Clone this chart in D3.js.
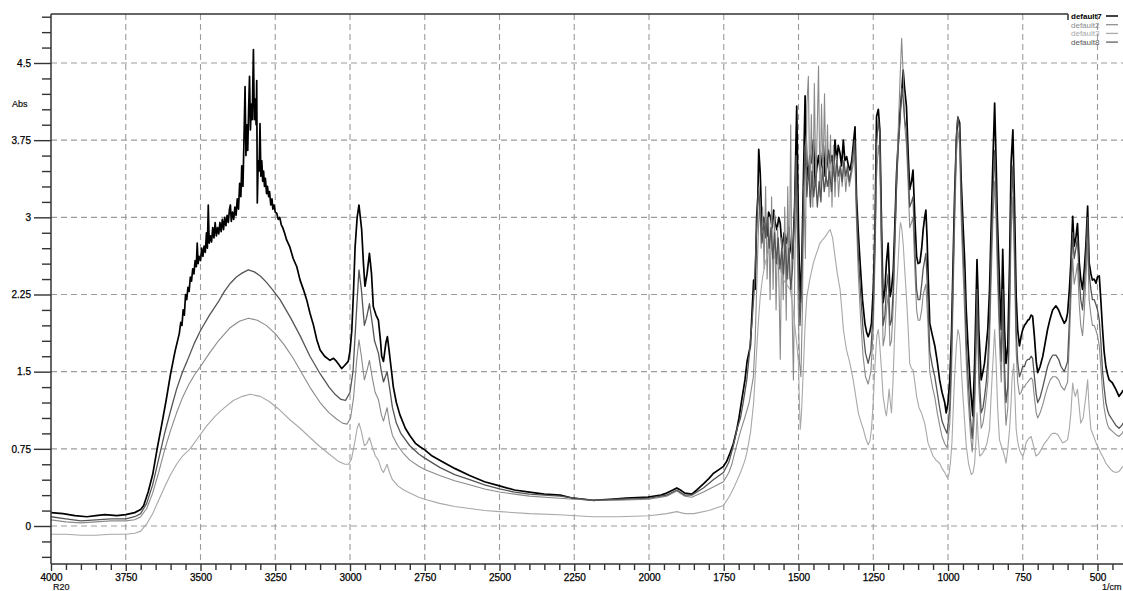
<!DOCTYPE html>
<html>
<head>
<meta charset="utf-8">
<script src="https://cdn.jsdelivr.net/npm/d3@7"></script>
<style>
  html, body { margin: 0; padding: 0; background: #fff; }
  svg { display: block; }
  text { font-family: "Liberation Sans", Arial, sans-serif; }
</style>
</head>
<body>
<svg id="chart" width="1123" height="591"></svg>
<script>
// IR absorbance spectra, [wavenumber (1/cm), absorbance]
const seriesNames = ["default7", "default2", "default3", "default8"];

const default7 = [[4000,0.13],[3960,0.12],[3920,0.1],[3880,0.09],[3850,0.1],[3820,0.11],[3780,0.1],[3750,0.11],[3720,0.13],[3700,0.16],[3690,0.2],[3675,0.33],[3660,0.5],[3645,0.75],[3630,0.98],[3615,1.22],[3600,1.48],[3585,1.7],[3571,1.87],[3566,1.98],[3562,1.95],[3558,2.1],[3554,2.05],[3550,2.25],[3546,2.2],[3542,2.32],[3538,2.28],[3534,2.42],[3530,2.38],[3526,2.5],[3522,2.45],[3518,2.58],[3514,2.52],[3511,2.75],[3508,2.55],[3505,2.62],[3500,2.58],[3496,2.7],[3492,2.62],[3488,2.72],[3484,2.66],[3480,2.85],[3477,2.7],[3474,3.12],[3471,2.75],[3467,2.82],[3463,2.76],[3459,2.9],[3455,2.8],[3451,2.95],[3447,2.82],[3443,2.9],[3439,2.84],[3435,2.95],[3431,2.86],[3427,2.98],[3423,2.88],[3419,3.0],[3415,2.92],[3411,3.02],[3407,2.95],[3403,3.08],[3400,3.12],[3397,2.96],[3393,3.05],[3389,2.98],[3385,3.1],[3381,3.02],[3377,3.18],[3373,3.08],[3369,3.33],[3365,3.2],[3362,3.5],[3358,3.3],[3355,3.7],[3351,4.27],[3348,3.6],[3345,3.9],[3342,3.65],[3339,4.05],[3336,4.37],[3333,3.85],[3330,4.1],[3327,3.95],[3323,4.63],[3320,3.95],[3317,4.15],[3314,3.9],[3312,4.33],[3310,3.14],[3307,3.55],[3304,3.45],[3301,3.91],[3298,3.4],[3295,3.55],[3292,3.35],[3289,3.45],[3286,3.3],[3283,3.38],[3279,3.23],[3276,3.3],[3272,3.2],[3269,3.25],[3265,3.12],[3261,3.18],[3258,3.08],[3254,3.12],[3250,3.05],[3245,3.04],[3240,2.98],[3235,3.0],[3230,2.93],[3225,2.9],[3218,2.84],[3212,2.78],[3201,2.71],[3190,2.6],[3178,2.52],[3167,2.39],[3156,2.3],[3145,2.2],[3134,2.07],[3122,1.95],[3111,1.81],[3100,1.71],[3085,1.65],[3067,1.61],[3055,1.63],[3045,1.6],[3035,1.56],[3028,1.53],[3018,1.56],[3006,1.6],[3000,1.7],[2994,1.9],[2988,2.3],[2983,2.71],[2976,3.0],[2970,3.12],[2961,2.88],[2955,2.55],[2950,2.33],[2943,2.45],[2935,2.65],[2928,2.45],[2922,2.13],[2913,2.05],[2905,2.0],[2898,1.8],[2894,1.65],[2888,1.6],[2880,1.78],[2875,1.84],[2869,1.7],[2863,1.55],[2855,1.35],[2845,1.2],[2833,1.08],[2815,0.95],[2800,0.88],[2780,0.8],[2766,0.77],[2750,0.74],[2725,0.68],[2700,0.64],[2650,0.56],[2600,0.49],[2550,0.43],[2500,0.39],[2450,0.35],[2400,0.33],[2350,0.31],[2297,0.3],[2254,0.27],[2187,0.25],[2130,0.26],[2075,0.27],[2003,0.28],[1960,0.3],[1941,0.32],[1920,0.35],[1907,0.37],[1895,0.35],[1880,0.32],[1857,0.31],[1840,0.35],[1818,0.41],[1800,0.46],[1785,0.51],[1765,0.55],[1751,0.58],[1740,0.63],[1729,0.71],[1718,0.8],[1707,0.93],[1699,1.05],[1690,1.22],[1679,1.42],[1672,1.6],[1661,1.75],[1655,2.1],[1650,2.39],[1645,2.3],[1640,3.0],[1636,3.2],[1633,3.66],[1628,3.43],[1622,2.88],[1617,3.0],[1611,2.94],[1605,2.82],[1600,3.05],[1594,3.01],[1588,2.9],[1583,3.07],[1578,2.95],[1572,2.88],[1566,3.0],[1561,2.94],[1555,2.7],[1548,2.85],[1540,2.75],[1533,2.9],[1528,2.72],[1520,2.6],[1513,3.1],[1506,4.08],[1500,2.9],[1494,2.17],[1489,2.56],[1484,3.3],[1478,4.18],[1472,3.5],[1467,3.37],[1462,3.6],[1456,3.53],[1450,3.75],[1444,3.33],[1438,3.5],[1433,3.6],[1428,3.46],[1422,3.55],[1417,3.7],[1411,3.4],[1405,3.5],[1400,3.65],[1394,3.53],[1388,3.6],[1383,3.45],[1378,3.75],[1372,3.55],[1367,3.7],[1361,3.62],[1356,3.5],[1350,3.75],[1345,3.55],[1339,3.59],[1333,3.5],[1328,3.46],[1322,3.55],[1317,3.7],[1311,3.88],[1306,3.2],[1300,2.85],[1294,2.56],[1286,2.2],[1278,1.97],[1272,1.88],[1267,1.84],[1262,1.88],[1256,1.97],[1250,2.3],[1244,2.88],[1239,3.98],[1233,4.05],[1228,3.85],[1222,2.88],[1217,2.17],[1211,2.3],[1206,2.56],[1200,2.75],[1194,2.23],[1189,2.3],[1183,2.49],[1178,2.9],[1172,3.43],[1167,3.7],[1161,4.01],[1155,4.2],[1150,4.43],[1145,4.25],[1139,4.08],[1133,3.6],[1128,3.27],[1122,3.35],[1117,3.46],[1111,3.0],[1105,2.62],[1100,2.55],[1094,2.56],[1088,2.7],[1083,2.88],[1078,3.0],[1074,3.07],[1070,2.8],[1067,2.49],[1061,1.97],[1052,1.85],[1044,1.75],[1036,1.6],[1028,1.42],[1020,1.3],[1011,1.2],[1006,1.1],[1000,1.2],[994,1.42],[988,1.9],[983,2.56],[978,3.2],[972,3.75],[967,3.97],[961,3.92],[956,3.37],[950,2.95],[944,2.56],[939,2.1],[933,1.75],[925,1.35],[917,1.07],[911,1.58],[906,2.2],[903,2.59],[900,2.3],[897,1.91],[889,1.42],[883,1.5],[878,1.58],[872,1.75],[867,1.91],[861,2.3],[856,2.88],[850,3.53],[844,4.11],[839,3.53],[835,3.0],[830,2.56],[826,2.2],[822,1.91],[817,2.69],[811,1.91],[806,1.58],[800,1.75],[794,2.56],[789,3.53],[783,3.85],[778,3.2],[772,2.23],[767,1.91],[761,1.75],[755,1.85],[750,1.91],[744,1.95],[739,1.97],[733,2.0],[728,2.01],[722,2.05],[717,2.04],[711,1.84],[705,1.6],[700,1.49],[692,1.55],[683,1.65],[675,1.78],[667,1.91],[658,2.02],[650,2.1],[639,2.14],[630,2.1],[622,2.04],[611,1.97],[605,2.0],[600,2.07],[594,2.3],[589,2.56],[583,3.01],[578,2.72],[572,2.81],[567,2.94],[561,2.56],[556,2.4],[550,2.3],[544,2.5],[539,2.72],[533,3.11],[528,2.56],[522,2.45],[517,2.39],[511,2.4],[505,2.36],[500,2.42],[494,2.43],[489,2.2],[483,1.91],[478,1.7],[472,1.55],[466,1.47],[461,1.42],[450,1.39],[439,1.33],[428,1.26],[418,1.3],[415,1.32]];

const default2 = [[4000,0.06],[3950,0.04],[3900,0.03],[3850,0.04],[3800,0.05],[3750,0.05],[3720,0.06],[3700,0.09],[3680,0.17],[3660,0.32],[3640,0.52],[3619,0.75],[3600,0.93],[3580,1.1],[3560,1.25],[3540,1.37],[3520,1.47],[3500,1.55],[3470,1.68],[3440,1.8],[3400,1.93],[3370,1.99],[3340,2.02],[3310,2.0],[3280,1.95],[3250,1.87],[3220,1.76],[3190,1.63],[3160,1.48],[3130,1.33],[3100,1.2],[3070,1.1],[3045,1.04],[3025,1.0],[3010,0.99],[2998,1.05],[2988,1.25],[2978,1.6],[2970,1.81],[2962,1.65],[2952,1.42],[2944,1.5],[2935,1.61],[2926,1.45],[2916,1.3],[2905,1.23],[2895,1.08],[2888,1.02],[2876,1.15],[2868,1.0],[2858,0.88],[2840,0.78],[2820,0.7],[2800,0.64],[2770,0.58],[2750,0.55],[2700,0.49],[2650,0.44],[2600,0.4],[2550,0.36],[2500,0.33],[2450,0.31],[2400,0.29],[2300,0.27],[2250,0.26],[2187,0.25],[2100,0.25],[2000,0.26],[1941,0.29],[1907,0.34],[1880,0.29],[1857,0.28],[1818,0.33],[1785,0.38],[1751,0.43],[1733,0.52],[1723,0.6],[1710,0.75],[1694,0.92],[1680,1.05],[1665,1.2],[1651,1.45],[1645,1.8],[1640,2.3],[1635,2.8],[1630,3.2],[1625,2.7],[1620,3.1],[1615,2.5],[1610,3.3],[1605,2.4],[1600,3.0],[1595,2.2],[1590,3.2],[1585,2.3],[1580,3.05],[1575,2.1],[1570,2.9],[1565,2.3],[1561,1.62],[1556,2.8],[1551,2.2],[1546,3.1],[1541,2.0],[1536,3.3],[1531,2.4],[1526,3.9],[1522,2.2],[1517,1.42],[1512,2.6],[1507,3.4],[1502,2.3],[1497,1.6],[1492,1.45],[1487,2.1],[1482,3.3],[1477,2.6],[1472,4.1],[1467,4.37],[1462,3.2],[1457,4.0],[1452,3.1],[1447,4.3],[1442,3.3],[1437,3.9],[1433,4.47],[1428,3.2],[1423,4.1],[1418,3.4],[1413,4.2],[1408,3.3],[1403,3.9],[1398,3.2],[1393,3.8],[1388,3.1],[1383,3.7],[1378,3.2],[1372,3.6],[1366,3.2],[1360,3.5],[1354,3.3],[1348,3.55],[1342,3.25],[1336,3.45],[1330,3.3],[1324,3.4],[1318,3.5],[1312,3.65],[1306,2.95],[1300,2.45],[1292,2.0],[1284,1.65],[1276,1.45],[1267,1.38],[1258,1.5],[1250,1.9],[1244,2.6],[1239,3.4],[1233,3.7],[1228,3.55],[1222,2.5],[1217,1.75],[1211,1.85],[1206,2.1],[1200,2.25],[1194,1.75],[1189,1.8],[1183,2.15],[1178,2.7],[1172,3.3],[1167,3.8],[1161,4.3],[1155,4.74],[1150,4.4],[1145,3.9],[1139,3.7],[1133,3.3],[1128,2.9],[1122,2.95],[1117,3.0],[1111,2.5],[1105,2.1],[1100,2.0],[1094,2.0],[1088,2.1],[1083,2.25],[1074,2.35],[1067,1.95],[1061,1.5],[1052,1.35],[1044,1.25],[1036,1.1],[1028,0.98],[1020,0.87],[1011,0.8],[1003,0.76],[994,1.0],[988,1.5],[983,2.2],[978,2.9],[972,3.6],[967,3.85],[961,3.7],[956,3.0],[950,2.5],[944,2.05],[939,1.6],[933,1.25],[925,0.9],[919,0.72],[911,1.1],[906,1.7],[903,2.05],[900,1.8],[897,1.35],[889,0.95],[883,1.0],[878,1.1],[872,1.25],[867,1.4],[861,1.8],[856,2.35],[850,2.95],[844,3.35],[839,2.95],[835,2.45],[830,2.0],[826,1.65],[822,1.4],[817,2.05],[811,1.3],[806,0.98],[800,1.15],[794,1.95],[789,2.85],[783,3.2],[778,2.55],[772,1.7],[767,1.4],[761,1.28],[755,1.3],[750,1.35],[744,1.35],[739,1.38],[733,1.4],[728,1.42],[722,1.44],[717,1.42],[711,1.25],[705,1.1],[700,1.05],[692,1.1],[683,1.18],[675,1.27],[667,1.35],[658,1.42],[650,1.45],[639,1.45],[630,1.42],[622,1.36],[611,1.32],[600,1.4],[594,1.8],[589,2.2],[583,2.6],[578,2.35],[572,2.45],[567,2.55],[561,2.15],[556,1.95],[550,1.85],[544,2.1],[539,2.4],[533,2.75],[528,2.2],[522,2.05],[517,1.95],[511,1.95],[505,1.9],[500,1.85],[494,1.75],[489,1.55],[483,1.3],[478,1.15],[472,1.05],[466,0.98],[461,0.95],[450,0.92],[439,0.89],[428,0.87],[418,0.9],[415,0.92]];

const default3 = [[4000,-0.08],[3950,-0.08],[3900,-0.09],[3850,-0.09],[3800,-0.08],[3750,-0.08],[3720,-0.07],[3700,-0.05],[3680,0.02],[3660,0.12],[3640,0.25],[3620,0.38],[3600,0.5],[3580,0.6],[3560,0.68],[3535,0.75],[3510,0.85],[3480,0.97],[3450,1.07],[3420,1.15],[3390,1.22],[3360,1.26],[3334,1.28],[3300,1.26],[3270,1.21],[3240,1.14],[3200,1.03],[3167,0.95],[3134,0.86],[3100,0.77],[3070,0.7],[3040,0.63],[3017,0.6],[3005,0.6],[2995,0.65],[2985,0.8],[2976,0.95],[2970,1.0],[2962,0.92],[2952,0.78],[2944,0.8],[2935,0.86],[2926,0.77],[2915,0.68],[2905,0.64],[2895,0.55],[2888,0.52],[2876,0.6],[2868,0.52],[2858,0.45],[2840,0.39],[2820,0.35],[2800,0.32],[2770,0.28],[2750,0.26],[2700,0.22],[2650,0.19],[2600,0.17],[2550,0.15],[2500,0.14],[2400,0.12],[2300,0.11],[2187,0.09],[2100,0.09],[2000,0.1],[1941,0.12],[1907,0.14],[1880,0.12],[1850,0.12],[1800,0.15],[1751,0.2],[1733,0.28],[1715,0.38],[1694,0.52],[1680,0.63],[1672,0.72],[1660,0.92],[1650,1.2],[1642,1.6],[1635,1.95],[1628,2.23],[1620,2.42],[1611,2.56],[1602,2.65],[1594,2.72],[1585,2.65],[1578,2.6],[1572,2.56],[1562,2.5],[1550,2.39],[1540,2.35],[1528,2.3],[1520,2.15],[1511,1.91],[1505,1.75],[1500,1.58],[1497,1.2],[1494,0.94],[1490,1.1],[1483,1.58],[1478,1.95],[1472,2.23],[1462,2.4],[1450,2.56],[1440,2.65],[1428,2.75],[1420,2.78],[1411,2.81],[1400,2.86],[1394,2.88],[1386,2.8],[1378,2.62],[1370,2.45],[1361,2.3],[1355,2.1],[1350,1.91],[1340,1.72],[1328,1.58],[1317,1.42],[1308,1.25],[1300,1.1],[1290,1.0],[1283,0.94],[1275,0.85],[1267,0.79],[1261,0.83],[1256,0.94],[1250,1.2],[1244,1.58],[1238,1.85],[1233,1.91],[1228,1.75],[1222,1.5],[1217,1.26],[1210,1.12],[1206,1.07],[1201,1.2],[1197,1.33],[1193,1.2],[1189,1.1],[1184,1.4],[1178,1.91],[1172,2.3],[1167,2.56],[1162,2.85],[1159,2.95],[1155,2.9],[1150,2.75],[1145,2.5],[1139,2.23],[1133,1.9],[1128,1.58],[1122,1.53],[1117,1.52],[1111,1.4],[1105,1.26],[1097,1.15],[1089,1.1],[1078,1.0],[1072,0.9],[1067,0.81],[1058,0.74],[1050,0.68],[1040,0.64],[1028,0.61],[1018,0.55],[1011,0.52],[1003,0.47],[997,0.5],[992,0.61],[987,0.8],[983,1.1],[978,1.45],[972,1.75],[967,1.91],[962,1.85],[959,1.75],[955,1.5],[950,1.26],[944,1.0],[939,0.78],[931,0.6],[922,0.5],[916,0.52],[911,0.61],[906,0.85],[903,1.1],[899,0.85],[894,0.68],[886,0.7],[878,0.74],[870,0.8],[861,0.94],[856,1.25],[850,1.58],[844,1.91],[839,1.58],[834,1.15],[828,0.84],[822,0.78],[817,0.74],[811,0.68],[806,0.61],[800,0.75],[794,0.94],[789,1.2],[786,1.42],[780,1.58],[776,1.25],[772,0.94],[767,0.82],[761,0.74],[755,0.7],[750,0.68],[745,0.72],[739,0.81],[730,0.85],[722,0.87],[714,0.78],[706,0.68],[697,0.7],[689,0.74],[678,0.8],[667,0.84],[658,0.88],[650,0.9],[640,0.9],[633,0.89],[625,0.85],[617,0.81],[608,0.82],[600,0.84],[594,0.95],[589,1.1],[583,1.39],[578,1.3],[574,1.26],[567,1.33],[561,1.15],[556,1.0],[548,1.05],[539,1.26],[533,1.42],[528,1.15],[522,0.94],[514,0.88],[505,0.81],[497,0.76],[489,0.71],[480,0.66],[472,0.61],[464,0.58],[456,0.55],[448,0.53],[439,0.52],[428,0.53],[418,0.57],[415,0.58]];

const default8 = [[4000,0.09],[3950,0.07],[3900,0.05],[3850,0.06],[3800,0.07],[3750,0.07],[3720,0.09],[3700,0.12],[3680,0.22],[3660,0.4],[3640,0.65],[3620,0.9],[3600,1.12],[3580,1.33],[3560,1.5],[3545,1.6],[3520,1.78],[3500,1.9],[3470,2.05],[3440,2.18],[3420,2.28],[3400,2.36],[3380,2.42],[3360,2.46],[3340,2.49],[3320,2.47],[3300,2.43],[3280,2.37],[3260,2.3],[3234,2.2],[3200,2.03],[3167,1.85],[3134,1.65],[3100,1.48],[3070,1.35],[3050,1.28],[3030,1.23],[3015,1.22],[3000,1.3],[2990,1.5],[2980,2.0],[2970,2.49],[2962,2.3],[2952,1.95],[2945,2.02],[2935,2.16],[2926,1.98],[2918,1.8],[2905,1.68],[2895,1.5],[2888,1.4],[2876,1.5],[2868,1.35],[2858,1.15],[2845,1.0],[2830,0.9],[2800,0.78],[2770,0.7],[2750,0.66],[2700,0.57],[2650,0.5],[2600,0.45],[2550,0.4],[2500,0.36],[2450,0.33],[2400,0.31],[2350,0.3],[2297,0.29],[2250,0.27],[2187,0.25],[2100,0.26],[2000,0.27],[1941,0.3],[1907,0.35],[1880,0.3],[1857,0.3],[1818,0.37],[1785,0.45],[1751,0.52],[1733,0.62],[1718,0.78],[1705,0.95],[1694,1.05],[1685,1.2],[1673,1.42],[1665,1.65],[1655,2.0],[1648,2.3],[1642,2.75],[1637,3.1],[1633,3.3],[1628,3.0],[1622,2.75],[1616,2.95],[1610,2.8],[1604,3.0],[1598,2.7],[1592,2.9],[1586,2.6],[1580,2.85],[1574,2.55],[1568,2.8],[1562,2.5],[1556,2.7],[1550,2.45],[1544,2.8],[1538,2.4],[1532,2.7],[1526,2.3],[1520,2.5],[1514,3.0],[1508,3.6],[1502,2.7],[1495,1.95],[1489,2.4],[1483,3.2],[1478,3.7],[1472,3.2],[1466,3.5],[1460,3.1],[1455,3.45],[1449,3.2],[1443,3.4],[1437,3.1],[1431,3.35],[1425,3.15],[1420,3.5],[1414,3.25],[1408,3.4],[1402,3.3],[1396,3.45],[1390,3.25],[1384,3.5],[1378,3.35],[1372,3.55],[1366,3.4],[1360,3.5],[1354,3.35],[1348,3.55],[1342,3.4],[1336,3.5],[1330,3.35],[1324,3.45],[1318,3.6],[1312,3.75],[1306,3.1],[1300,2.65],[1292,2.25],[1284,1.9],[1276,1.68],[1267,1.58],[1258,1.7],[1250,2.1],[1244,2.8],[1239,3.7],[1233,3.95],[1228,3.8],[1222,2.7],[1217,1.95],[1211,2.05],[1206,2.3],[1200,2.45],[1194,1.95],[1189,2.0],[1183,2.3],[1178,2.75],[1172,3.3],[1167,3.65],[1161,3.9],[1155,4.25],[1150,4.15],[1145,3.95],[1139,3.85],[1133,3.45],[1128,3.1],[1122,3.15],[1117,3.2],[1111,2.7],[1105,2.3],[1100,2.2],[1094,2.2],[1088,2.35],[1083,2.5],[1074,2.65],[1067,2.2],[1061,1.7],[1052,1.55],[1044,1.45],[1036,1.3],[1028,1.15],[1020,1.02],[1011,0.95],[1003,0.9],[994,1.15],[988,1.7],[983,2.4],[978,3.1],[972,3.8],[967,3.98],[961,3.85],[956,3.2],[950,2.7],[944,2.3],[939,1.8],[933,1.45],[925,1.05],[919,0.85],[911,1.3],[906,1.9],[903,2.3],[900,2.0],[897,1.55],[889,1.1],[883,1.15],[878,1.25],[872,1.4],[867,1.6],[861,2.0],[856,2.6],[850,3.2],[844,3.65],[839,3.2],[835,2.7],[830,2.2],[826,1.85],[822,1.6],[817,2.3],[811,1.55],[806,1.2],[800,1.35],[794,2.2],[789,3.1],[783,3.5],[778,2.8],[772,1.9],[767,1.6],[761,1.45],[755,1.5],[750,1.55],[744,1.55],[739,1.6],[733,1.62],[728,1.62],[722,1.65],[717,1.63],[711,1.45],[705,1.28],[700,1.2],[692,1.25],[683,1.35],[675,1.45],[667,1.55],[658,1.62],[650,1.66],[639,1.66],[630,1.62],[622,1.55],[611,1.5],[600,1.6],[594,2.0],[589,2.4],[583,2.85],[578,2.6],[572,2.7],[567,2.8],[561,2.4],[556,2.2],[550,2.1],[544,2.35],[539,2.6],[533,3.0],[528,2.45],[522,2.3],[517,2.2],[511,2.2],[505,2.15],[500,2.1],[494,2.0],[489,1.8],[483,1.5],[478,1.35],[472,1.2],[466,1.12],[461,1.08],[450,1.03],[439,0.98],[428,0.95],[418,0.98],[415,1.0]];

const seriesColors = ["#000000", "#8a8a8a", "#a8a8a8", "#555555"];
const seriesWidths = [1.7, 1.1, 1.1, 1.3];

const xMajorTicks = [4000, 3750, 3500, 3250, 3000, 2750, 2500, 2250, 2000, 1750, 1500, 1250, 1000, 750, 500];
const xMinorTicks = d3.range(4000, 400, -50);
const yMajorTicks = [0, 0.75, 1.5, 2.25, 3, 3.75, 4.5];
const yTickLabels = ["0", "0.75", "1.5", "2.25", "3", "3.75", "4.5"];
const yMinorTicks = d3.range(-0.3, 5.0, 0.15).map(v => +v.toFixed(2));

const svg = d3.select("#chart");
const frame = { left: 51, top: 14, bottom: 564, right: 1123, legendLeft: 1068 };

const x = d3.scaleLinear().domain([4000, 500]).range([51, 1097.5]);
const y = d3.scaleLinear().domain([0, 4.5]).range([526, 63]);

svg.append("defs").append("clipPath").attr("id", "plotClip")
  .append("rect").attr("x", frame.left).attr("y", frame.top)
  .attr("width", frame.right - frame.left).attr("height", frame.bottom - frame.top);

// dashed grid
const grid = svg.append("g").attr("stroke", "#9c9c9c").attr("stroke-width", 1.1)
  .attr("stroke-dasharray", "6,4").attr("fill", "none");
grid.selectAll("line.v").data(xMajorTicks.filter(v => v !== 4000)).join("line")
  .attr("class", "v")
  .attr("x1", d => x(d)).attr("x2", d => x(d))
  .attr("y1", frame.top).attr("y2", frame.bottom);
grid.selectAll("line.h").data(yMajorTicks).join("line")
  .attr("class", "h")
  .attr("x1", frame.left).attr("x2", frame.right)
  .attr("y1", d => y(d)).attr("y2", d => y(d));

// spectra
const line = d3.line().x(d => x(d[0])).y(d => y(d[1]));
const allSeries = [default7, default2, default3, default8];
const curves = svg.append("g").attr("clip-path", "url(#plotClip)");
allSeries.forEach((s, i) => {
  curves.append("path").datum(s)
    .attr("fill", "none")
    .attr("stroke", seriesColors[i])
    .attr("stroke-width", seriesWidths[i])
    .attr("stroke-linejoin", "round")
    .attr("d", line);
});

// axes
const axisColor = "#333";
const labelFont = "'Liberation Sans', Arial, sans-serif";
const yMajorAxis = d3.axisLeft(y).tickValues(yMajorTicks).tickSize(17).tickPadding(3)
  .tickFormat((d, i) => yTickLabels[i]);
const yMinorAxis = d3.axisLeft(y).tickValues(yMinorTicks.filter(v => !yMajorTicks.includes(v))).tickSize(9).tickFormat("");
const gyMinor = svg.append("g").attr("transform", `translate(${frame.left},0)`).call(yMinorAxis);
const gy = svg.append("g").attr("transform", `translate(${frame.left},0)`).call(yMajorAxis);

const xMajorAxis = d3.axisBottom(x).tickValues(xMajorTicks).tickSize(7).tickPadding(3)
  .tickFormat(d3.format("d"));
const xMinorAxis = d3.axisBottom(x).tickValues(xMinorTicks.filter(v => v % 250 !== 0)).tickSize(6).tickFormat("");
const gxMinor = svg.append("g").attr("transform", `translate(0,${frame.bottom})`).call(xMinorAxis);
const gx = svg.append("g").attr("transform", `translate(0,${frame.bottom})`).call(xMajorAxis);

[gy, gyMinor, gx, gxMinor].forEach(g => {
  g.select(".domain").remove();
  g.selectAll(".tick line").attr("stroke", axisColor).attr("stroke-width", 1.4);
  g.selectAll(".tick text").attr("fill", "#000").attr("stroke", "#000").attr("stroke-width", 0.25)
    .attr("font-size", 10).attr("font-family", labelFont);
});

// frame lines
const frameG = svg.append("g").attr("stroke", axisColor).attr("stroke-width", 1.5);
frameG.append("line").attr("x1", frame.left).attr("x2", frame.left).attr("y1", frame.top).attr("y2", frame.bottom);
frameG.append("line").attr("x1", frame.left).attr("x2", frame.right).attr("y1", frame.bottom).attr("y2", frame.bottom);
frameG.append("line").attr("x1", frame.left).attr("x2", frame.legendLeft).attr("y1", frame.top).attr("y2", frame.top);
frameG.append("line").attr("x1", frame.legendLeft).attr("x2", frame.legendLeft).attr("y1", frame.top).attr("y2", frame.top + 6);

// axis titles
svg.append("text").attr("x", 12).attr("y", 107).attr("font-size", 9).attr("font-family", labelFont)
  .attr("fill", "#111").attr("stroke", "#111").attr("stroke-width", 0.2).text("Abs");
svg.append("text").attr("x", 53).attr("y", 590).attr("font-size", 9).attr("font-family", labelFont)
  .attr("fill", "#111").attr("stroke", "#111").attr("stroke-width", 0.2).text("R20");
svg.append("text").attr("x", 1102).attr("y", 590).attr("font-size", 9).attr("font-family", labelFont)
  .attr("fill", "#111").attr("stroke", "#111").attr("stroke-width", 0.2).text("1/cm");

// legend
const legend = svg.append("g");
seriesNames.forEach((name, i) => {
  const yy = 16 + i * 8.7;
  legend.append("text").attr("x", 1071).attr("y", yy + 2.8)
    .attr("font-size", 8).attr("font-family", labelFont)
    .attr("font-weight", i === 0 ? "bold" : "normal")
    .attr("fill", i === 0 ? "#000" : seriesColors[i]).text(name);
  legend.append("line").attr("x1", 1106).attr("x2", 1118).attr("y1", yy).attr("y2", yy)
    .attr("stroke", seriesColors[i]).attr("stroke-width", i === 0 ? 1.5 : 1.2);
});
</script>
</body>
</html>
